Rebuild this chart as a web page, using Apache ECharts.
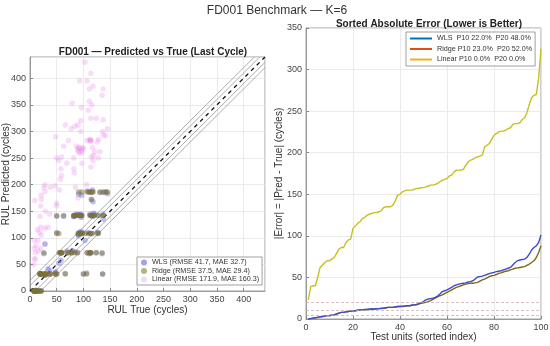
<!DOCTYPE html>
<html><head><meta charset="utf-8">
<script src="https://cdn.jsdelivr.net/npm/echarts@6/dist/echarts.min.js"></script>
<style>html,body{margin:0;padding:0;background:#fff}#c{width:550px;height:346px}</style>
</head><body><div id="c"></div>
<script>
// ---- Data ----
const trueRUL = [112,98,69,82,91,93,91,95,111,96,97,124,95,107,83,84,50,28,87,16,57,111,113,20,145,119,66,97,90,115,8,48,106,7,11,19,21,50,142,28,18,10,59,109,114,47,135,92,21,79,114,29,26,97,137,15,103,37,114,100,21,54,72,28,128,14,77,8,121,94,118,50,131,126,113,10,34,107,63,90,8,9,137,58,118,89,116,115,136,28,38,20,85,55,128,137,82,59,117,20];
const predWLS = [145,110,75,140,104,143,182,112,70,138,180,72,145,188,141,74,110,30,145,0,72,186,108,32,183,146,33,142,106,142,0,36,34,0,2,32,0,140,186,30,33,0,72,110,72,34,70,110,32,76,185,30,70,108,185,0,95,38,142,32,32,52,72,88,142,0,72,0,145,108,168,32,185,110,72,0,42,72,140,144,0,0,135,58,140,72,108,172,32,32,32,0,142,72,110,145,140,72,190,32];
const predRidge = [142,108,72,142,108,142,186,108,72,142,186,72,142,186,142,72,108,32,142,0,72,186,108,32,186,142,32,142,108,142,0,32,32,0,0,32,0,142,186,32,32,0,72,108,72,32,72,108,32,72,186,32,72,108,186,0,108,32,142,32,32,108,72,32,142,0,72,0,142,108,186,32,186,108,72,0,32,72,142,142,0,0,142,72,142,72,108,172,32,32,32,0,142,72,108,142,142,72,186,32];
const predLinear = [285,270,240,250,262,395,268,300,380,345,262,325,320,283,222,310,160,90,272,75,210,357,282,120,305,255,312,240,175,283,60,290,200,50,85,140,180,250,292,187,110,72,252,340,233,198,368,270,105,353,325,150,195,265,380,95,430,145,409,268,172,245,283,118,250,115,305,80,262,258,385,165,262,280,284,60,120,395,272,312,95,170,322,230,245,265,350,252,300,200,195,80,195,190,285,293,230,217,270,160];

const errWLS = [0,0.5,1,1.5,2,2.5,3,3.5,4,4,4.5,5,6,7,8,8,8.5,9,9.5,10,10,10.5,11,11,11.5,11.5,12,12,12,12.5,12.5,13,13,13.5,14,14,14,14.5,15,15,15.5,15.5,16,16,16.5,17,17.5,18.5,19.5,21,23,24,24.5,25,26,27.5,30,33,34,35,36.5,38,40,41,42,42.5,43,43.5,44.5,45,46,48,50.5,51,51.5,52.5,53.5,54.5,55.5,56,57,57.5,58,59,60,61,62,65,68,70,71,71.5,72,74,78,83,86,88,92,101];
const errRidge = [0,0.5,1,1.5,2,2.5,3,3.5,4,4,4.5,5,6,7,8,8,8.5,9,9.5,10,10,10.5,11,11,11,11.5,11.5,12,12,12,12.5,12.5,13,13.5,14,14,14,14.5,15,15,15,15.5,16,16,16.5,17,17,18,19,19.5,20,21,22,23.5,25,26.5,28,29,30.5,32,33.5,35,36.5,38,39,40,41,42,42.5,43,43,43.5,44,45.5,47,48,49.5,51,52,52.5,53.5,55,55.5,56.5,57.5,58,59,60,61,61.5,62,62.5,63,64.5,66,68,70,74,80,88];
const errLinear = [23,39,40,40,50,62,65,68,70,70,72,74,79,84,86,86,92,95,96,109,112,115,117,121,122,125,126,127,128,128,129,130,134,135,135,135,137,142,149,150,153,154,155,155,155,156,157,157,158,158,159,160,161,161,162,163,165,167,168,169,172,173,177,179,179,179,180,185,189,191,192,194,195,196,197,207,209,211,216,221,223,225,226,226,227,229,230,234,235,235,236,240,242,248,258,266,269,270,290,325];

const scatterNames = ['WLS (RMSE 41.7, MAE 32.7)','Ridge (RMSE 37.5, MAE 29.4)','Linear (RMSE 171.9, MAE 160.3)'];
const lineNames = ['WLS  P10 22.0%  P20 48.0%','Ridge P10 23.0%  P20 52.0%','Linear P10 0.0%  P20 0.0%'];
const bandOffsets = [-20,-10,10,20];
const thresholds = [5,10,20];
const axisMaxLeft = 440;

// ---- Build ----
const pairs = (xs, ys) => xs.map((x,i)=>[x, ys[i]]);
const idxPairs = (ys) => ys.map((y,i)=>[i+1, y]);
const FONT = 'Liberation Sans, Arial';

const axisCommon = {
  nameMoveOverlap:false,
  axisLine:{show:true,onZero:false,lineStyle:{color:'#888',width:0.8}},
  axisTick:{show:true,inside:true,length:3,lineStyle:{color:'#888'}},
  axisLabel:{color:'#444',fontSize:9,fontFamily:FONT,margin:4},
  splitLine:{show:true,lineStyle:{color:'#e6e6e6',width:0.8}},
  nameTextStyle:{color:'#333',fontSize:10,fontFamily:FONT}
};

const series = [];
bandOffsets.forEach(o=>{
  series.push({type:'line',xAxisIndex:0,yAxisIndex:0,silent:true,symbol:'none',
    data:[[Math.max(0,-o),Math.max(0,o)],[axisMaxLeft-Math.max(0,o),axisMaxLeft-Math.max(0,-o)]],
    lineStyle:{color:'#8a8a8a',width:0.7},z:1});
});
series.push({type:'line',xAxisIndex:0,yAxisIndex:0,silent:true,symbol:'none',
  data:[[0,0],[axisMaxLeft,axisMaxLeft]],lineStyle:{color:'#111',width:1.3,type:[4,4]},z:1});

const scatterColors = ['rgba(95,100,215,0.5)','rgba(125,112,45,0.6)','rgba(232,120,232,0.33)'];
const scatterPreds = [predWLS, predRidge, predLinear];
const drawOrder = [2,0,1];
drawOrder.forEach((k,j)=>{
  series.push({type:'scatter',name:scatterNames[k],xAxisIndex:0,yAxisIndex:0,
    data:pairs(trueRUL,scatterPreds[k]),symbolSize:5.5,
    itemStyle:{color:scatterColors[k]},z:2+j});
});

const lineColors = ['#3c4ccc','#7d6a12','#c8c020'];
const errs = [errWLS, errRidge, errLinear];
[2,1,0].forEach(k=>{
  const s = {type:'line',name:lineNames[k],xAxisIndex:1,yAxisIndex:1,symbol:'none',
    data:idxPairs(errs[k]),lineStyle:{color:lineColors[k],width:1.4},itemStyle:{color:lineColors[k]},z:3};
  if(k===2){
    s.markLine={silent:true,symbol:'none',label:{show:false},
      lineStyle:{color:'#c4a8a8',type:[3,2],width:0.7},
      data:thresholds.map(t=>({yAxis:t}))};
  }
  series.push(s);
});

const option = {
  backgroundColor:'#fff',
  animation:false,
  title:[
    {text:'FD001 Benchmark — K=6',left:272,top:0,textAlign:'center',
      textStyle:{fontSize:12,fontWeight:'normal',color:'#333',fontFamily:FONT}},
    {text:'FD001 — Predicted vs True (Last Cycle)',left:148,top:42,textAlign:'center',
      textStyle:{fontSize:10,fontWeight:'bold',color:'#222',fontFamily:FONT}},
    {text:'Sorted Absolute Error (Lower is Better)',left:424,top:14,textAlign:'center',
      textStyle:{fontSize:10,fontWeight:'bold',color:'#222',fontFamily:FONT}}
  ],
  grid:[
    {left:30,top:57,width:235,height:234,show:true,borderColor:'#888',borderWidth:0.8,outerBoundsMode:'none',containLabel:false},
    {left:306,top:28,width:235,height:291,show:true,borderColor:'#888',borderWidth:0.8,outerBoundsMode:'none',containLabel:false}
  ],
  xAxis:[
    Object.assign({},axisCommon,{type:'value',gridIndex:0,min:0,max:axisMaxLeft,interval:50,
      name:'RUL True (cycles)',nameLocation:'middle',nameGap:14,
      axisLabel:Object.assign({},axisCommon.axisLabel,{showMaxLabel:false})}),
    Object.assign({},axisCommon,{type:'value',gridIndex:1,min:0,max:100,interval:20,
      name:'Test units (sorted index)',nameLocation:'middle',nameGap:13})
  ],
  yAxis:[
    Object.assign({},axisCommon,{type:'value',gridIndex:0,min:0,max:axisMaxLeft,interval:50,
      name:'RUL Predicted (cycles)',nameLocation:'middle',nameGap:19,
      axisLabel:Object.assign({},axisCommon.axisLabel,{showMaxLabel:false})}),
    Object.assign({},axisCommon,{type:'value',gridIndex:1,min:0,max:350,interval:50,
      name:'|Error| = |Pred - True| (cycles)',nameLocation:'middle',nameGap:22})
  ],
  legend:[
    {orient:'vertical',left:137,top:257,itemWidth:6,itemHeight:6,itemGap:1.5,icon:'circle',
      padding:[2,3,2,4],backgroundColor:'#fff',borderColor:'#888',borderWidth:0.8,
      textStyle:{fontSize:7.2,color:'#333',fontFamily:FONT},
      data:[
        {name:scatterNames[0],itemStyle:{color:'#8a8ae0'}},
        {name:scatterNames[1],itemStyle:{color:'#a3a060'}},
        {name:scatterNames[2],itemStyle:{color:'#e8d4f6'}}
      ]},
    {orient:'vertical',left:406,top:32,itemWidth:22,itemHeight:2,itemGap:3.5,icon:'rect',
      padding:[3,3,3,4],backgroundColor:'#fff',borderColor:'#888',borderWidth:0.8,
      textStyle:{fontSize:7.2,color:'#333',fontFamily:FONT},
      data:[
        {name:lineNames[0],itemStyle:{color:'#0072BD'}},
        {name:lineNames[1],itemStyle:{color:'#D95319'}},
        {name:lineNames[2],itemStyle:{color:'#EDB120'}}
      ]}
  ],
  series:series
};
const chart = echarts.init(document.getElementById('c'),null,{renderer:'canvas'});
chart.setOption(option);
</script></body></html>
